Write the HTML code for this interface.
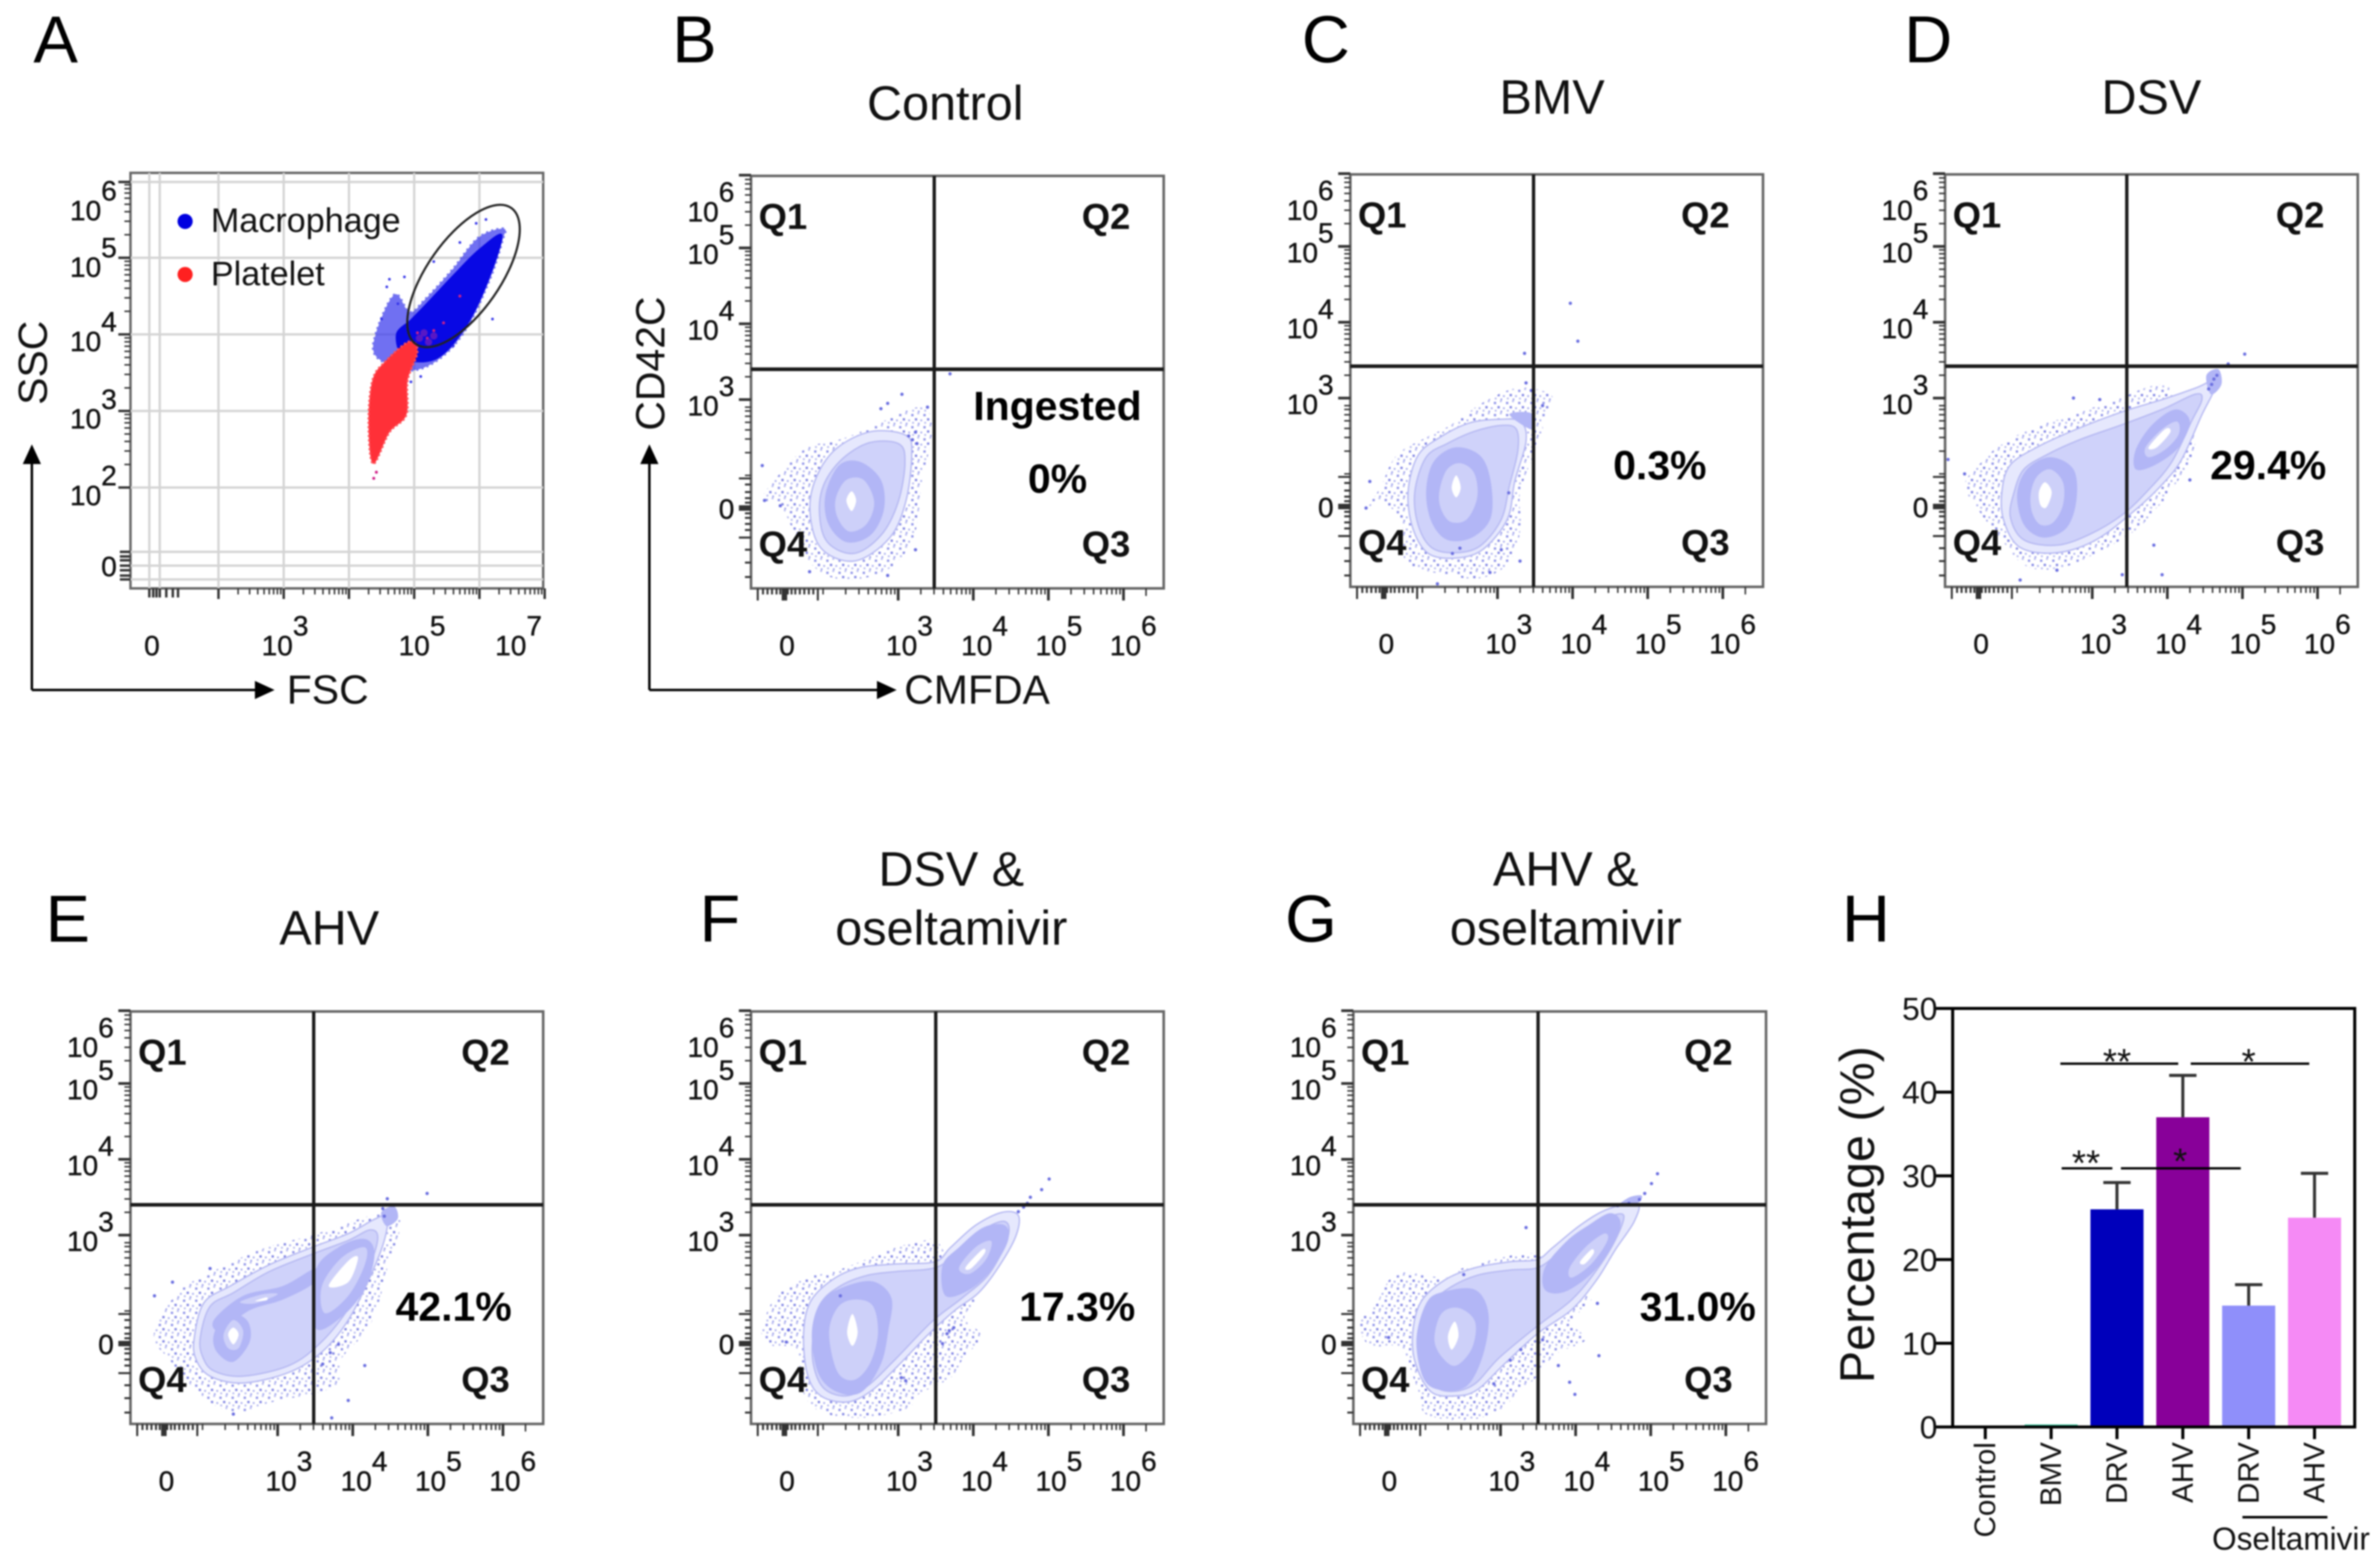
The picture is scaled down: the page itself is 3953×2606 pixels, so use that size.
<!DOCTYPE html>
<html lang="en">
<head>
<meta charset="utf-8">
<title>Platelet ingestion flow cytometry panels</title>
<style>
html,body{margin:0;padding:0;background:#fff;}
svg{display:block;width:3953px;height:2606px;filter:blur(1.3px);font-family:"Liberation Sans",Arial,sans-serif;}
.letter{font-size:44px;fill:#000;}
.title{font-size:32px;fill:#111;text-anchor:middle;}
.axis-name{font-size:27px;fill:#111;}
.q{font-size:24px;font-weight:bold;fill:#111;}
.pct{font-size:27px;font-weight:bold;fill:#000;text-anchor:middle;}
.tick{font-size:18.5px;fill:#111;stroke:#111;stroke-width:0.25px;}
</style>
</head>
<body>
<svg id="figure" xmlns="http://www.w3.org/2000/svg" viewBox="0 0 1568 1034" preserveAspectRatio="none">
  <defs>
    <pattern id="speckle" width="8" height="8" patternUnits="userSpaceOnUse">
      <rect x="0.6" y="1" width="1.5" height="1.5" fill="#8d91e8"/>
      <rect x="4.6" y="0" width="1.2" height="1.2" fill="#b4b7f0"/>
      <rect x="3" y="3.8" width="1.5" height="1.5" fill="#7d81e2"/>
      <rect x="6.6" y="4.6" width="1.2" height="1.2" fill="#a9adee"/>
      <rect x="1.2" y="6.2" width="1.2" height="1.2" fill="#b4b7f0"/>
      <rect x="5" y="6.8" width="1.1" height="1.1" fill="#9599ea"/>
    </pattern>
  </defs>
  <rect width="1568" height="1034" fill="#fff"/>

  <text class="letter" x="22" y="41">A</text>
  <text class="letter" x="443" y="41">B</text>
  <text class="letter" x="858" y="41">C</text>
  <text class="letter" x="1255" y="41">D</text>
  <text class="letter" x="30" y="621">E</text>
  <text class="letter" x="461" y="621">F</text>
  <text class="letter" x="847" y="621">G</text>
  <text class="letter" x="1214" y="621">H</text>

  <text class="title" x="623" y="79">Control</text>
  <text class="title" x="1023" y="75">BMV</text>
  <text class="title" x="1418" y="75">DSV</text>
  <text class="title" x="217" y="623">AHV</text>
  <text class="title" x="627" y="584">DSV &amp;</text>
  <text class="title" x="627" y="623">oseltamivir</text>
  <text class="title" x="1032" y="584">AHV &amp;</text>
  <text class="title" x="1032" y="623">oseltamivir</text>

  <g stroke="#000" stroke-width="1.6" fill="#000">
    <path d="M21 455V303M21 455H172" fill="none"/>
    <path d="M21 293l-6 13h12z" stroke="none"/>
    <path d="M181 455l-13-6v12z" stroke="none"/>
  </g>
  <text class="axis-name" x="189" y="464">FSC</text>
  <text class="axis-name" transform="translate(31 267) rotate(-90)">SSC</text>

  <g stroke="#000" stroke-width="1.6" fill="#000">
    <path d="M428 455V303M428 455H582" fill="none"/>
    <path d="M428 293l-6 13h12z" stroke="none"/>
    <path d="M591 455l-13-6v12z" stroke="none"/>
  </g>
  <text class="axis-name" x="596" y="464">CMFDA</text>
  <text class="axis-name" transform="translate(438 284) rotate(-90)">CD42C</text>

  <g id="panel-a"></g>
  <g id="flow-panels"></g>
  <g id="panel-h"></g>

  <g>
    <circle cx="122" cy="146" r="5" fill="#0000e0"/>
    <text x="139" y="153" font-size="22.5" fill="#111">Macrophage</text>
    <circle cx="122" cy="181" r="5" fill="#ff2020"/>
    <text x="139" y="188" font-size="22.5" fill="#111">Platelet</text>
  </g>

  <text class="pct" x="697" y="277">Ingested</text>
  <text class="pct" x="697" y="325">0%</text>
  <text class="pct" x="1094" y="316">0.3%</text>
  <text class="pct" x="1495" y="316">29.4%</text>
  <text class="pct" x="299" y="871">42.1%</text>
  <text class="pct" x="710" y="871">17.3%</text>
  <text class="pct" x="1119" y="871">31.0%</text>
</svg>

<script>
/* ---------- Panel A data: axis units are log10 decades ---------- */
const aGridX = [0.94, 1.10, 2, 3, 4, 5, 6];
const aGridY = [0.80, 0.98, 1.16, 2, 3, 4, 5, 5.99];
const aXTickLabels = ["0", "10|3", "10|5", "10|7"];
const aXLabelAt = [0.98, 3.02, 5.12, 6.6];
const aYTickLabels = ["0", "10|2", "10|3", "10|4", "10|5", "10|6"];
const aYLabelAt = [1.04, 1.97, 2.97, 3.98, 4.95, 5.69];
const aMacrophageSparse = [[6.37,5.38],[5.98,5.26],[5.58,4.84],[5.16,4.45],[4.93,4.29],[4.70,4.52],[4.42,4.03],[4.42,3.71],[4.93,3.53],[5.40,3.69],[5.81,4.09],[6.16,4.72],[6.35,5.22]];
const aMacrophageDense = [[6.35,5.3],[6.0,5.12],[5.62,4.8],[5.2,4.42],[4.95,4.2],[4.72,4.0],[4.85,3.68],[5.35,3.68],[5.8,4.1],[6.15,4.72]];
const aPlatelet = [[4.93,3.91],[4.56,3.65],[4.36,3.40],[4.30,2.84],[4.37,2.31],[4.62,2.72],[4.88,2.95],[4.90,3.40],[5.05,3.77]];
const aStrayMacrophage = [[4.62,4.72],[4.58,4.62],[4.75,4.4],[4.5,4.2],[4.85,4.75],[5.3,4.95],[5.7,5.2],[5.95,5.45],[6.1,5.5],[6.2,4.2],[5.6,3.85],[4.95,3.38],[5.1,3.45]];
const aStrayPlatelet = [[5.05,4.02],[5.2,3.95],[5.3,4.05],[5.45,4.15],[4.38,2.12],[4.42,2.2],[5.7,4.5]];
const aMixedCluster = [[5.08,3.95],[5.15,4.02],[5.22,3.9],[5.3,3.98]];

/* ---------- Flow panels: u = CMFDA channel decade, v = CD42C channel decade ---------- */
const xTickValues = [1.485, 3, 4, 5, 6];
const xTickLabels = ["0", "10|3", "10|4", "10|5", "10|6"];
const xLabelAt = [1.52, 3.15, 4.15, 5.14, 6.13];
const yTickValues = [1.57, 3, 4, 5, 5.96];
const yTickLabels = ["0", "10|3", "10|4", "10|5", "10|6"];
const yLabelAt = [1.64, 3, 4, 5, 5.56];
const zeroClusterX = [1.13,1.2,1.26,1.32,1.38,1.43,1.53,1.58,1.63,1.69,1.75,1.81,1.87,1.93];
const zeroClusterY = [0.66,0.85,1.02,1.18,1.28,1.36,1.44,1.5,1.64,1.7,1.78,1.88,1.96];

const bEnvelope = [
 [[1.83,1.69],[2.09,2.27],[2.60,2.57],[3.10,2.53],[3.18,2.27],[3.10,1.65],[2.88,1.17],[2.41,0.87],[1.95,1.07]],
 [[1.96,1.70],[2.17,2.13],[2.58,2.42],[3.0,2.42],[3.09,2.18],[3.0,1.65],[2.77,1.21],[2.40,0.97],[2.03,1.16]]];
const bPeaks = [[
 [[2.03,1.74],[2.21,2.13],[2.49,2.18],[2.77,1.94],[2.81,1.55],[2.63,1.21],[2.31,1.12],[2.07,1.36]],
 [[2.17,1.70],[2.31,1.94],[2.54,1.94],[2.68,1.65],[2.58,1.36],[2.35,1.26],[2.19,1.45]],
 [[2.31,1.67],[2.38,1.79],[2.44,1.67],[2.38,1.53]]]];
const bHalo = [[1.19,1.70],[1.52,2.13],[1.8,2.37],[2.21,2.47],[2.58,2.61],[3.28,2.9],[3.46,2.61],[3.32,1.94],[3.23,1.26],[3,0.87],[2.68,0.68],[2.21,0.63],[1.84,0.83],[1.61,1.26],[1.43,1.6]];
const bStray = [[3.39,2.90],[3.05,3.07],[2.86,2.95],[2.77,2.88],[1.19,2.13],[1.22,1.67],[1.43,1.6],[1.82,0.73],[2.86,0.68],[3.23,1.02],[3.69,3.34],[3.19,2.47],[3.25,2.42],[3.14,2.52],[3.23,2.57]];

const cEnvelope = [
 [[1.81,1.77],[1.94,2.24],[2.23,2.48],[2.62,2.67],[3.02,2.72],[3.31,2.69],[3.38,2.43],[3.23,1.90],[3.13,1.40],[2.80,1.00],[2.44,0.89],[2.08,0.95],[1.87,1.29]],
 [[1.90,1.77],[2.05,2.22],[2.33,2.40],[2.69,2.56],[3.05,2.64],[3.25,2.59],[3.27,2.30],[3.16,1.85],[3.05,1.40],[2.77,1.05],[2.44,0.96],[2.12,1.03],[1.94,1.34]]];
const cPeaks = [[
 [[2.05,1.77],[2.15,2.16],[2.44,2.35],[2.77,2.24],[2.91,1.90],[2.91,1.42],[2.66,1.16],[2.33,1.13],[2.12,1.37]],
 [[2.23,1.79],[2.33,2.06],[2.51,2.14],[2.69,2.01],[2.73,1.69],[2.59,1.40],[2.37,1.37],[2.24,1.56]],
 [[2.39,1.82],[2.45,1.98],[2.51,1.82],[2.45,1.69]]],
 [[[3.16,2.79],[3.45,2.80],[3.49,2.59],[3.34,2.64]]]];
const cHalo = [[1.29,1.58],[1.44,1.82],[1.65,2.24],[2.01,2.46],[2.37,2.64],[2.84,2.96],[3.31,3.14],[3.74,3.01],[3.59,2.69],[3.59,2.51],[3.31,1.79],[3.31,1.29],[3.16,0.84],[2.80,0.63],[2.37,0.66],[1.79,0.84],[1.72,1.37],[1.47,1.63]];
const cStray = [[3.97,4.25],[4.07,3.75],[3.36,3.59],[1.3,1.9],[1.25,1.55],[3.45,3.1],[3.38,3.2],[3.3,0.85],[2.9,0.7],[2.2,0.55],[3.6,2.9],[3.15,1.75],[3.05,1.0],[2.5,1.02],[2.4,0.95]];

const dEnvelope = [
 [[1.80,1.79],[1.91,2.12],[2.26,2.35],[2.79,2.59],[3.40,2.82],[3.93,2.98],[4.37,3.13],[4.59,3.22],[4.63,3.12],[4.46,2.78],[4.19,2.19],[3.93,1.86],[3.58,1.53],[3.05,1.13],[2.53,0.96],[2.04,1.03],[1.82,1.39]],
 [[1.96,1.76],[2.09,2.06],[2.39,2.25],[2.83,2.45],[3.40,2.65],[3.93,2.85],[4.37,3.05],[4.46,2.98],[4.32,2.69],[4.06,2.16],[3.75,1.79],[3.40,1.46],[2.96,1.20],[2.53,1.06],[2.09,1.13],[1.91,1.43]]];
const dPeaks = [
 [[[2.00,1.73],[2.13,2.06],[2.44,2.22],[2.75,2.06],[2.79,1.66],[2.66,1.29],[2.35,1.16],[2.09,1.33]],
  [[2.18,1.73],[2.26,1.96],[2.44,2.06],[2.61,1.89],[2.61,1.59],[2.48,1.36],[2.31,1.33],[2.20,1.49]],
  [[2.29,1.76],[2.37,1.89],[2.46,1.76],[2.39,1.56],[2.31,1.59]]],
 [[[3.58,2.32],[3.80,2.65],[4.11,2.85],[4.30,2.69],[4.15,2.35],[3.84,2.12],[3.58,2.06]],
  [[3.71,2.35],[3.93,2.59],[4.13,2.69],[4.15,2.52],[3.97,2.32],[3.75,2.22]],
  [[3.75,2.35],[3.97,2.59],[4.04,2.55],[3.86,2.35]]],
 [[[4.52,3.3],[4.68,3.38],[4.72,3.18],[4.58,3.05]]]];
const dHalo = [[1.3,1.85],[1.52,2.15],[1.74,2.35],[2.18,2.6],[2.70,2.76],[3.32,2.98],[4.0,3.15],[4.37,2.42],[4.06,1.79],[3.84,1.53],[3.58,1.26],[3.05,0.95],[2.53,0.75],[2.09,0.8],[1.74,1.2],[1.5,1.5]];
const dStray = [[5.03,3.58],[4.81,3.45],[4.59,3.18],[4.62,3.25],[4.55,3.12],[4.66,3.3],[3.40,0.67],[3.93,0.67],[3.82,1.06],[2.53,0.73],[2.04,0.6],[1.3,2],[1.08,2.19],[4.3,1.92],[3.1,2.98],[2.75,3.0]];

const eEnvelope = [
 [[1.89,1.65],[2.02,2.11],[2.37,2.33],[2.89,2.61],[3.46,2.84],[3.94,3.02],[4.29,3.21],[4.46,3.25],[4.42,2.93],[4.24,2.47],[3.94,1.88],[3.59,1.46],[3.15,1.19],[2.54,1.05],[2.10,1.14],[1.91,1.37]],
 [[1.97,1.65],[2.10,2.06],[2.41,2.24],[2.89,2.52],[3.46,2.75],[3.94,2.93],[4.24,3.07],[4.33,2.93],[4.16,2.43],[3.90,1.97],[3.55,1.56],[3.15,1.28],[2.54,1.14],[2.15,1.21],[2.0,1.40]]];
const ePeaks = [
 [[[2.15,1.88],[2.54,2.20],[3.07,2.33],[3.50,2.56],[3.50,2.38],[3.07,2.15],[2.63,2.01],[2.24,1.74]],
  [[2.5,2.12],[2.8,2.22],[3.0,2.22],[2.7,2.1]],
  [[2.7,2.13],[2.85,2.18],[2.85,2.14]]],
 [[[2.15,1.69],[2.32,1.97],[2.59,1.88],[2.63,1.60],[2.41,1.33],[2.19,1.46]],
  [[2.28,1.69],[2.41,1.88],[2.54,1.74],[2.48,1.51],[2.34,1.51]],
  [[2.34,1.69],[2.41,1.78],[2.48,1.69],[2.41,1.56]]],
 [[[3.50,2.52],[3.81,2.84],[4.16,2.95],[4.29,2.75],[4.16,2.29],[3.85,1.92],[3.50,1.78]],
  [[3.59,2.33],[3.85,2.70],[4.16,2.84],[4.16,2.61],[3.94,2.20],[3.63,1.97]],
  [[3.68,2.33],[3.94,2.66],[4.07,2.70],[3.94,2.38]]],
 [[[4.38,3.3],[4.55,3.38],[4.6,3.22],[4.45,3.12]]]];
const eHalo = [[1.35,1.69],[1.68,2.25],[2.19,2.55],[2.80,2.82],[3.46,3.0],[4.59,3.3],[4.46,2.56],[4.24,1.83],[3.85,1.37],[3.75,1.0],[2.93,0.80],[2.41,0.66],[1.97,0.9],[1.55,1.37]];
const eStray = [[4.99,3.55],[4.46,3.48],[3.81,1.56],[4.16,1.28],[3.94,0.82],[3.72,0.59],[2.41,0.64],[1.36,2.2],[2.10,2.56],[1.6,2.38],[4.4,3.35],[4.5,3.4],[4.42,3.25],[3.6,1.3],[3.7,1.45]];

const fEnvelope = [
 [[1.74,1.70],[1.83,2.12],[2.12,2.41],[2.48,2.57],[2.98,2.62],[3.49,2.65],[3.70,2.84],[4.03,3.13],[4.38,3.30],[4.60,3.26],[4.56,2.97],[4.31,2.54],[4.06,2.23],[3.77,2.02],[3.41,1.70],[3.02,1.30],[2.66,0.96],[2.33,0.80],[1.97,0.88],[1.79,1.17]],
 [[1.87,1.70],[1.97,2.10],[2.23,2.33],[2.59,2.47],[2.98,2.52],[3.49,2.57],[3.77,2.76],[4.13,3.07],[4.42,3.18],[4.46,2.97],[4.21,2.49],[3.85,2.17],[3.45,1.86],[2.95,1.35],[2.59,1.01],[2.30,0.88],[2.01,0.98],[1.87,1.30]]];
const fPeaks = [
 [[[1.85,1.70],[1.97,2.12],[2.26,2.31],[2.66,2.39],[2.91,2.17],[2.87,1.75],[2.77,1.30],[2.51,0.93],[2.19,0.93],[1.94,1.17]],
  [[2.08,1.70],[2.19,2.04],[2.41,2.15],[2.66,2.07],[2.73,1.70],[2.62,1.30],[2.41,1.09],[2.19,1.20]],
  [[2.32,1.72],[2.39,1.96],[2.46,1.72],[2.39,1.54]]],
 [[[3.59,2.60],[3.81,2.84],[4.13,3.10],[4.42,3.13],[4.46,2.92],[4.24,2.54],[3.95,2.28],[3.63,2.20]],
  [[3.81,2.57],[4.03,2.84],[4.24,2.92],[4.17,2.68],[3.95,2.49]],
  [[3.90,2.58],[4.12,2.81],[4.15,2.76],[3.97,2.56]]]];
const fHalo = [[1.18,1.7],[1.36,2.17],[1.79,2.44],[2.15,2.52],[2.62,2.7],[2.98,2.84],[3.31,2.92],[3.49,2.94],[3.63,2.76],[3.95,2.3],[4.06,2.17],[3.88,1.91],[4.10,1.67],[3.85,1.35],[3.70,1.12],[3.27,0.9],[3.13,0.72],[2.55,0.59],[1.97,0.67],[1.72,0.96],[1.65,1.49],[1.33,1.54]];
const fStray = [[4.76,3.50],[4.67,3.37],[4.60,3.31],[5.01,3.74],[4.91,3.60],[3.65,1.70],[3.74,1.78],[3.59,1.57],[3.04,1.12],[2.23,2.2],[1.51,1.59],[1.54,1.75],[4.72,3.42],[4.64,3.4],[3.68,1.74],[3.1,1.08]];

const gEnvelope = [
 [[1.83,1.70],[1.94,2.12],[2.26,2.41],[2.66,2.57],[3.13,2.65],[3.49,2.68],[3.70,2.84],[4.06,3.13],[4.42,3.34],[4.82,3.42],[4.78,3.18],[4.53,2.81],[4.28,2.41],[3.95,2.02],[3.49,1.70],[3.05,1.30],[2.69,0.96],[2.41,0.88],[2.08,0.93],[1.87,1.30]],
 [[1.94,1.70],[2.05,2.07],[2.33,2.31],[2.69,2.47],[3.13,2.54],[3.49,2.57],[3.77,2.76],[4.13,3.05],[4.42,3.23],[4.64,3.26],[4.53,2.94],[4.28,2.54],[3.95,2.15],[3.49,1.80],[2.98,1.38],[2.66,1.04],[2.37,0.94],[2.12,1.01],[1.96,1.30]]];
const gPeaks = [
 [[[1.88,1.62],[2.01,2.10],[2.23,2.25],[2.66,2.28],[2.84,1.96],[2.77,1.43],[2.55,1.01],[2.19,0.96],[1.97,1.12]],
  [[2.12,1.62],[2.21,1.96],[2.44,2.04],[2.66,1.86],[2.62,1.51],[2.41,1.28],[2.23,1.38]],
  [[2.30,1.67],[2.39,1.86],[2.44,1.67],[2.35,1.49]]],
 [[[3.59,2.57],[3.88,2.92],[4.17,3.13],[4.46,3.29],[4.60,3.15],[4.46,2.81],[4.21,2.49],[3.85,2.25],[3.59,2.28]],
  [[3.92,2.57],[4.13,2.84],[4.38,3.02],[4.42,2.92],[4.21,2.62],[3.95,2.44]],
  [[4.06,2.65],[4.21,2.81],[4.24,2.76],[4.12,2.62]]],
 [[[4.56,3.38],[4.82,3.42],[4.88,3.52],[4.72,3.5]]]];
const gHalo = [[1.11,1.86],[1.33,2.07],[1.62,2.49],[2.26,2.44],[2.51,2.57],[3.13,2.73],[3.45,2.76],[3.59,2.70],[4.0,2.3],[4.21,2.15],[3.95,1.86],[4.13,1.62],[3.74,1.43],[3.45,1.1],[3.27,0.96],[2.98,0.69],[2.55,0.56],[2.01,0.64],[1.90,0.96],[1.65,1.51],[1.26,1.54]];
const gStray = [[4.85,3.47],[4.92,3.55],[5.01,3.68],[5.09,3.81],[4.56,3.39],[4.71,3.42],[4.31,1.41],[3.77,1.28],[3.92,1.06],[3.99,0.9],[4.29,2.10],[3.34,3.1],[3.56,1.62],[3.27,1.49],[3.13,1.35],[2.91,1.04],[2.51,2.48],[1.51,1.65]];

const gateU = [3.48, 3.48, 3.46, 3.48, 3.5, 3.5];
const gateV = [3.4, 3.42, 3.42, 3.4, 3.4, 3.4];

/* ---------- Panel H data ---------- */
const barCategories = ["Control", "BMV", "DRV", "AHV", "DRV", "AHV"];
const barValues = [0.1, 0.3, 26, 37, 14.5, 25];
const barUpperError = [0.1, 0.3, 29.2, 42, 17, 30.3];
const barYTicks = [0, 10, 20, 30, 40, 50];
const sigBrackets = [[1.14, 2.93, 43.4], [3.12, 4.92, 43.4], [1.16, 1.93, 30.9], [2.06, 3.88, 30.9]];
const sigStars = ["**", "*", "**", "*"];
const sigStarAt = [[2.0, 43.6], [4.0, 43.6], [1.53, 31.5], [2.96, 31.7]];

const NS = "http://www.w3.org/2000/svg";
function mk(tag, attrs, parent) {
  const el = document.createElementNS(NS, tag);
  for (const k in attrs) el.setAttribute(k, attrs[k]);
  parent.appendChild(el);
  return el;
}
function smoothClosed(pts) {
  const n = pts.length;
  let d = "M" + pts[0][0].toFixed(2) + " " + pts[0][1].toFixed(2);
  for (let i = 0; i < n; i++) {
    const p0 = pts[(i - 1 + n) % n], p1 = pts[i], p2 = pts[(i + 1) % n], p3 = pts[(i + 2) % n];
    const c1x = p1[0] + (p2[0] - p0[0]) / 6, c1y = p1[1] + (p2[1] - p0[1]) / 6;
    const c2x = p2[0] - (p3[0] - p1[0]) / 6, c2y = p2[1] - (p3[1] - p1[1]) / 6;
    d += "C" + c1x.toFixed(2) + " " + c1y.toFixed(2) + " " + c2x.toFixed(2) + " " + c2y.toFixed(2) + " " + p2[0].toFixed(2) + " " + p2[1].toFixed(2);
  }
  return d + "Z";
}
function tickText(parent, raw, x, y, anchor, rise) {
  const parts = raw.split("|");
  const t = mk("text", {x: x, y: y, "text-anchor": anchor, class: "tick"}, parent);
  
  
  t.appendChild(document.createTextNode(parts[0]));
  if (parts[1]) {
    const s = mk("tspan", {dy: -rise}, t);
    s.textContent = parts[1];
  }
  return t;
}
function tickLine(parent, x1, y1, x2, y2, w) {
  const l = mk("line", {x1: x1, y1: y1, x2: x2, y2: y2, stroke: "#333", "stroke-width": w}, parent);
  
  
}

/* ---------- Panel A ---------- */
(function () {
  const root = document.getElementById("panel-a");
  const L = 86, R = 358, T = 114, B = 388;
  const ax = d => 187 + (d - 3) * 43;
  const ay = d => 271 - (d - 3) * 50.5;
  const frame = mk("rect", {x: L, y: T, width: R - L, height: B - T, fill: "#fff", stroke: "#666", "stroke-width": 1.6}, root);
  
  
  aGridX.forEach(g => {
    const l = mk("line", {x1: ax(g), x2: ax(g), y1: T, y2: B, stroke: "#d4d4d4", "stroke-width": 1.5}, root);
    
    
  });
  aGridY.forEach(g => {
    const l = mk("line", {x1: L, x2: R, y1: ay(g), y2: ay(g), stroke: "#d4d4d4", "stroke-width": 1.5}, root);
    
    
  });
  const toPx = p => [ax(p[0]), ay(p[1])];
  const sparse = mk("path", {d: smoothClosed(aMacrophageSparse.map(toPx)), fill: "#3a3aee", opacity: 0.72, stroke: "#3a3ae8", "stroke-width": 1.6, "stroke-dasharray": "1.3 2.2"}, root);
  
  
  const dense = mk("path", {d: smoothClosed(aMacrophageDense.map(toPx)), fill: "#0808e4"}, root);
  
  
  aStrayMacrophage.forEach(p => {
    const c = mk("circle", {cx: ax(p[0]), cy: ay(p[1]), r: 0.9, fill: "#3333e8"}, root);
    
    
  });
  const red = mk("path", {d: smoothClosed(aPlatelet.map(toPx)), fill: "#ff3038", stroke: "#ff5058", "stroke-width": 1.4, "stroke-dasharray": "1.3 1.6"}, root);
  
  
  aStrayPlatelet.forEach(p => {
    const c = mk("circle", {cx: ax(p[0]), cy: ay(p[1]), r: 1, fill: "#d02088"}, root);
    
    
  });
  aMixedCluster.forEach(p => {
    const c = mk("circle", {cx: ax(p[0]), cy: ay(p[1]), r: 2.4, fill: "#7a1fb8", opacity: 0.7}, root);
    
    
  });
  const gate = mk("ellipse", {cx: 305.5, cy: 182, rx: 54.8, ry: 24, fill: "none", stroke: "#222", "stroke-width": 1.4, transform: "rotate(-55 305.5 182)"}, root);
  
  

  [2, 3, 4, 5, 6, 7].forEach(dec => {
    tickLine(root, ax(dec), B, ax(dec), B + 7, 1.6);
    if (dec < 7) [2, 3, 4, 5, 6, 7, 8, 9].forEach(k => {
      const v = dec + Math.log10(k);
      tickLine(root, ax(v), B, ax(v), B + 4, 1);
    });
  });
  [0.94, 1.0, 1.05, 1.10, 1.2, 1.3, 1.38].forEach(v => tickLine(root, ax(v), B, ax(v), B + 6, 1.6));
  [2, 3, 4, 5].forEach(dec => {
    tickLine(root, L, ay(dec), L - 8, ay(dec), 1.6);
    [2, 3, 4, 5, 6, 7, 8, 9].forEach(k => {
      const v = dec + Math.log10(k);
      tickLine(root, L, ay(v), L - 4, ay(v), 1);
    });
  });
  tickLine(root, L, ay(5.99), L - 8, ay(5.99), 1.6);
  [0.80, 0.85, 0.92, 0.98, 1.05, 1.1, 1.16].forEach(v => tickLine(root, L, ay(v), L - 7, ay(v), 1.6));
  aXTickLabels.forEach((txt, i) => tickText(root, txt, ax(aXLabelAt[i]), 432, "middle", 13));
  aYTickLabels.forEach((txt, i) => tickText(root, txt, 77, ay(aYLabelAt[i]) + 10, "end", 13));
})();

/* ---------- Flow contour panels ---------- */
const envelopeFills = ["#e6e8fd", "#cfd2fa"];
const peakFills = ["#b2b6f6", "#cdd0f9", "#ffffff"];
const flowPanels = [
  {key: "b", left: 495, top: 116, envelope: bEnvelope, peaks: bPeaks, halo: bHalo, stray: bStray},
  {key: "c", left: 890, top: 115, envelope: cEnvelope, peaks: cPeaks, halo: cHalo, stray: cStray},
  {key: "d", left: 1282, top: 115, envelope: dEnvelope, peaks: dPeaks, halo: dHalo, stray: dStray},
  {key: "e", left: 86, top: 667, envelope: eEnvelope, peaks: ePeaks, halo: eHalo, stray: eStray},
  {key: "f", left: 495, top: 667, envelope: fEnvelope, peaks: fPeaks, halo: fHalo, stray: fStray},
  {key: "g", left: 892, top: 667, envelope: gEnvelope, peaks: gPeaks, halo: gHalo, stray: gStray}
];
flowPanels.forEach((p, pi) => {
  const host = document.getElementById("flow-panels");
  const g = mk("g", {}, host);
  
  
  const W = 272, H = 272, L = p.left, T = p.top, R = L + W, B = T + H;
  const xs = u => L + 97 + (u - 3) * 49.5;
  const ys = v => T + 147.5 - (v - 3) * 50;
  const toPx = q => [xs(q[0]), ys(q[1])];

  const frame = mk("rect", {x: L, y: T, width: W, height: H, fill: "#fff", stroke: "#666", "stroke-width": 1.7}, g);
  
  

  const halo = mk("path", {d: smoothClosed(p.halo.map(toPx)), fill: "url(#speckle)"}, g);
  
  
  p.envelope.forEach((pts, i) => {
    const e = mk("path", {d: smoothClosed(pts.map(toPx)), fill: envelopeFills[i], stroke: "#b6b9f2", "stroke-width": 0.9}, g);
    
    
  });
  p.peaks.forEach(levels => levels.forEach((pts, i) => {
    const c = mk("path", {d: smoothClosed(pts.map(toPx)), fill: peakFills[i]}, g);
    
    
  }));
  p.stray.forEach(q => {
    const c = mk("circle", {cx: xs(q[0]), cy: ys(q[1]), r: 1.1, fill: "#6a6ee0"}, g);
    
    
  });

  const hLine = mk("line", {x1: L, x2: R, y1: ys(gateV[pi]), y2: ys(gateV[pi]), stroke: "#1a1a1a", "stroke-width": 2.4}, g);
  
  
  const vLine = mk("line", {y1: T, y2: B, x1: xs(gateU[pi]), x2: xs(gateU[pi]), stroke: "#1a1a1a", "stroke-width": 2.2}, g);
  
  

  xTickValues.forEach(u => tickLine(g, xs(u), B, xs(u), B + 8, u < 2 ? 3.6 : 1.8));
  [2, 3, 4, 5].forEach(dec => [1, 2, 3, 4, 5, 6, 7, 8, 9].forEach(k => {
    const u = dec + Math.log10(k);
    if (xs(u) < R) tickLine(g, xs(u), B, xs(u), B + 4, 1);
  }));
  [6, 6.3].forEach(u => { if (xs(u) <= R) tickLine(g, xs(u), B, xs(u), B + 5, 1); });
  zeroClusterX.forEach(u => tickLine(g, xs(u), B, xs(u), B + (u < 1.2 || u > 1.9 ? 8 : 4), 1.3));

  yTickValues.forEach(v => tickLine(g, L, ys(v), L - 8, ys(v), v < 2 ? 3.6 : 1.8));
  [3, 4, 5].forEach(dec => [2, 3, 4, 5, 6, 7, 8, 9].forEach(k => {
    const v = dec + Math.log10(k);
    if (ys(v) > T) tickLine(g, L, ys(v), L - 4, ys(v), 1);
  }));
  [2, 2.3, 2.48, 2.6, 2.7, 2.78, 2.85, 2.9].forEach(v => tickLine(g, L, ys(v), L - 4, ys(v), 1));
  zeroClusterY.forEach(v => tickLine(g, L, ys(v), L - (v === 1.18 || v === 1.96 ? 8 : 4), ys(v), 1.3));

  xTickLabels.forEach((txt, i) => tickText(g, txt, xs(xLabelAt[i]), T + 316, "middle", 13));
  yTickLabels.forEach((txt, i) => tickText(g, txt, L - 11, ys(yLabelAt[i]) + 10.5, "end", 13));

  [["Q1", L + 5, T + 35, "start"], ["Q2", L + 250, T + 35, "end"], ["Q4", L + 5, T + 251, "start"], ["Q3", L + 250, T + 251, "end"]].forEach(q => {
    const t = mk("text", {x: q[1], y: q[2], "text-anchor": q[3], class: "q"}, g);
    
    
    t.textContent = q[0];
  });
});

/* ---------- Panel H bar chart ---------- */
(function () {
  const root = document.getElementById("panel-h");
  const axisL = 1287, axisR = 1552, axisT = 665, axisB = 941;
  const y = v => axisB - v * (axisB - axisT) / 50;
  const x = i => 1308.5 + 43.4 * i;
  const barW = 35;
  const barFills = ["#b8b8b8", "#38c8a0", "#0000bb", "#880099", "#8f8ffa", "#f58af5"];
  barValues.forEach((val, i) => {
    const r = mk("rect", {x: x(i) - barW / 2, y: y(val), width: barW, height: axisB - y(val), fill: barFills[i]}, root);
    
    
    if (barUpperError[i] > val) {
      const s = mk("line", {x1: x(i), x2: x(i), y1: y(val), y2: y(barUpperError[i]), stroke: "#333", "stroke-width": 2}, root);
      
      
      const c = mk("line", {x1: x(i) - 9, x2: x(i) + 9, y1: y(barUpperError[i]), y2: y(barUpperError[i]), stroke: "#333", "stroke-width": 2}, root);
      
      
    }
    const t = mk("line", {x1: x(i), x2: x(i), y1: axisB, y2: axisB + 8, stroke: "#000", "stroke-width": 2}, root);
    
    
    const lab = mk("text", {"text-anchor": "end", "font-size": 19.5, fill: "#111", transform: "translate(" + (x(i) + 6.5) + " 951) rotate(-90)"}, root);
    
    
    lab.textContent = barCategories[i];
  });
  const frame = mk("path", {d: "M" + axisL + " " + axisT + "H" + axisR + "V" + axisB + "H" + axisL + "Z", fill: "none", stroke: "#000", "stroke-width": 2}, root);
  
  
  barYTicks.forEach(v => {
    const t = mk("line", {x1: axisL - 12, x2: axisL, y1: y(v), y2: y(v), stroke: "#000", "stroke-width": 2}, root);
    
    
    const lab = mk("text", {x: 1277, y: y(v) + 7.5, "text-anchor": "end", "font-size": 21, fill: "#111"}, root);
    
    
    lab.textContent = v;
  });
  sigBrackets.forEach(b => {
    const l = mk("line", {x1: x(b[0]), x2: x(b[1]), y1: y(b[2]), y2: y(b[2]), stroke: "#000", "stroke-width": 1.5}, root);
    
    
  });
  sigStars.forEach((s, i) => {
    const t = mk("text", {x: x(sigStarAt[i][0]), y: y(sigStarAt[i][1]) + 8, "text-anchor": "middle", "font-size": 24, fill: "#111"}, root);
    
    
    t.textContent = s;
  });
  const yTitle = mk("text", {"text-anchor": "middle", "font-size": 32, fill: "#111", transform: "translate(1235 801) rotate(-90)"}, root);
  
  
  yTitle.textContent = "Percentage (%)";
  const osLine = mk("line", {x1: 1478, x2: 1534, y1: 1000.5, y2: 1000.5, stroke: "#000", "stroke-width": 1.6}, root);
  
  
  const osText = mk("text", {x: 1510, y: 1022, "text-anchor": "middle", "font-size": 20.8, fill: "#111"}, root);
  
  
  osText.textContent = "Oseltamivir";
})();
</script>
</body>
</html>
